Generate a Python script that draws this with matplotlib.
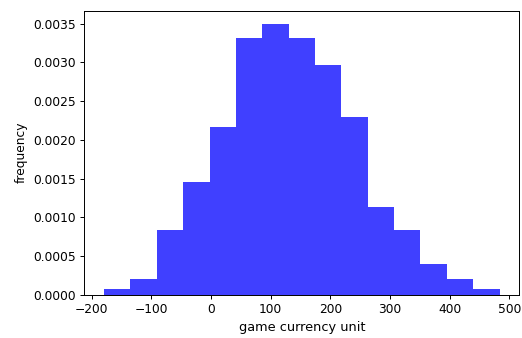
import matplotlib
matplotlib.use("Agg")
import matplotlib.pyplot as plt
import numpy as np

# histogram (density, 15 bins)
bin_start = -179.3
bin_width = 44.2
heights = [0.00007, 0.000207, 0.000832, 0.001452, 0.00216, 0.003315, 0.003492,
           0.003315, 0.002963, 0.002291, 0.001129, 0.000832, 0.000393, 0.000207,
           0.00007]

edges = bin_start + bin_width * np.arange(len(heights) + 1)

# the reference looks like a default 10pt figure scaled up ~1.22x
DPI = 88
fig, ax = plt.subplots(figsize=(522 / DPI, 338 / DPI), dpi=DPI)
fig.subplots_adjust(left=0.1615, right=0.9948, top=0.9683, bottom=0.128)

ax.hist(edges[:-1] + bin_width / 2, bins=edges, weights=heights,
        color="blue", alpha=0.75)
ax.set_xlabel("game currency unit", fontsize=10.5)
ax.set_ylabel("frequency")

fig.savefig("out.png", dpi=DPI, facecolor="white")
